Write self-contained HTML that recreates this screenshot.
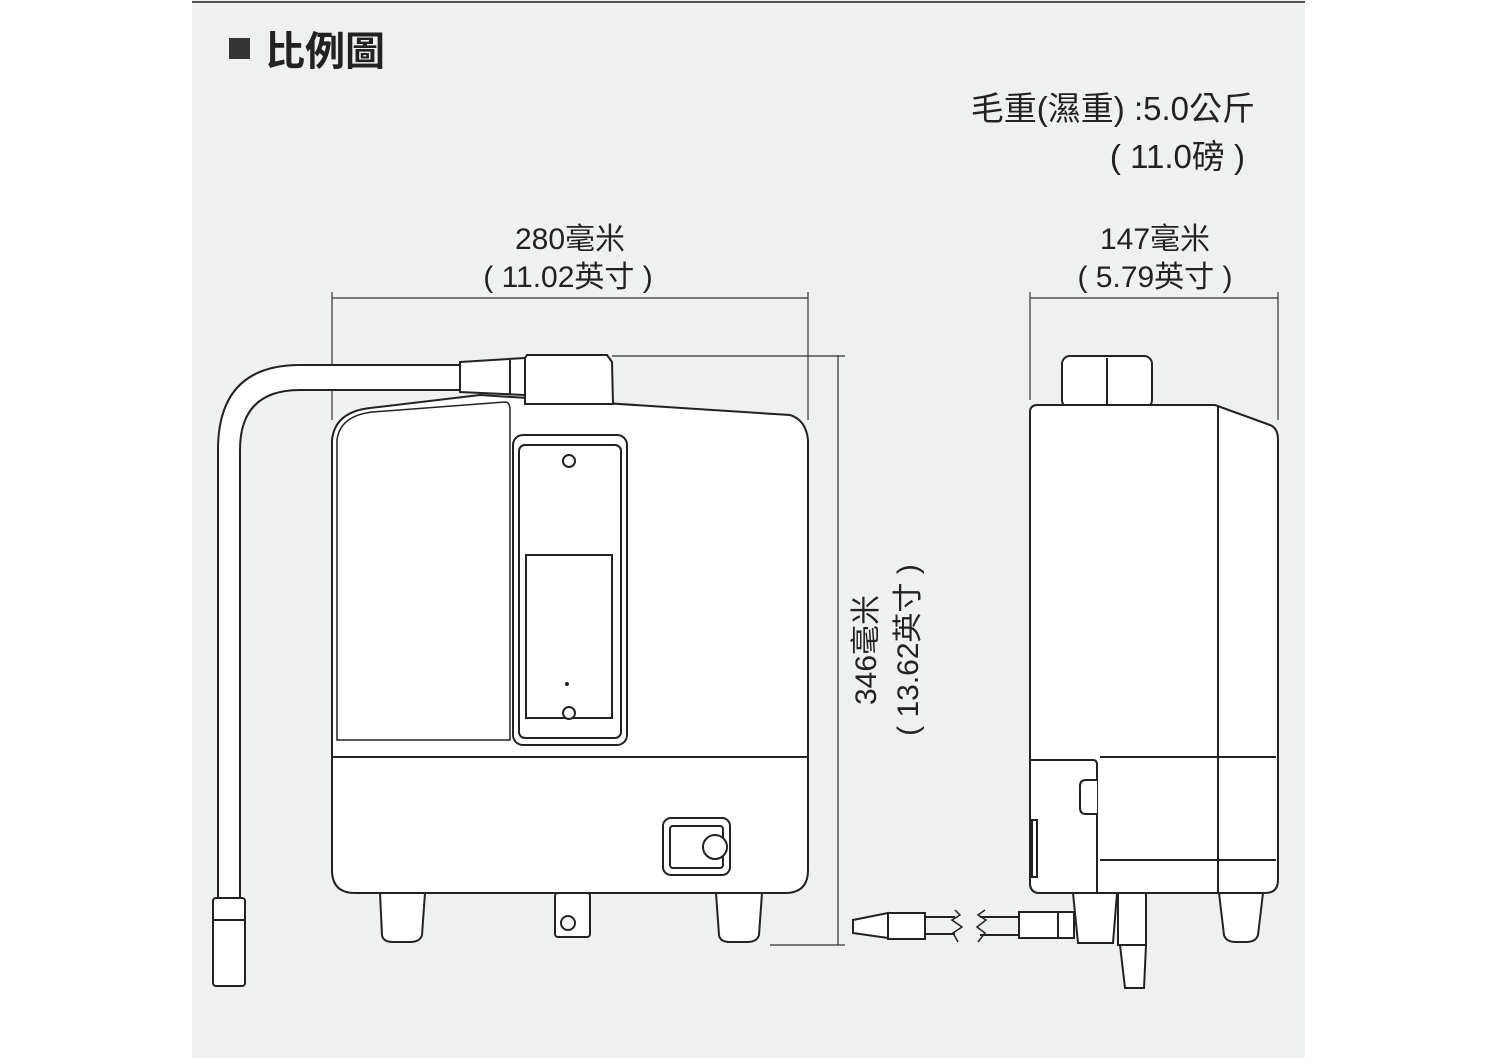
<!DOCTYPE html>
<html><head><meta charset="utf-8"><style>
html,body{margin:0;padding:0;background:#fff;}
svg{display:block;}
text{font-family:"Liberation Sans","Noto Sans CJK TC",sans-serif;fill:#222;}
</style></head><body>
<svg width="1497" height="1058" viewBox="0 0 1497 1058" xmlns="http://www.w3.org/2000/svg">
<rect x="192" y="0" width="1113" height="1058" fill="#eef1f0"/>
<line x1="192" y1="2" x2="1305" y2="2" stroke="#555" stroke-width="2"/>
<rect x="229" y="38" width="21" height="21" fill="#333"/>
<text x="265" y="65" font-size="40" font-weight="bold">比例圖</text>
<text x="1255" y="120" font-size="33" text-anchor="end">毛重(濕重) :5.0公斤</text>
<text x="1245" y="168" font-size="33" text-anchor="end">( 11.0磅 )</text>
<text x="570" y="249" font-size="30" text-anchor="middle">280毫米</text>
<text x="568" y="287" font-size="30" text-anchor="middle">( 11.02英寸 )</text>
<text x="1155" y="249" font-size="30" text-anchor="middle">147毫米</text>
<text x="1155" y="287" font-size="30" text-anchor="middle">( 5.79英寸 )</text>
<g transform="translate(876,650) rotate(-90)"><text x="0" y="0" font-size="30" text-anchor="middle">346毫米</text></g>
<g transform="translate(918,650) rotate(-90)"><text x="0" y="0" font-size="30" text-anchor="middle">( 13.62英寸 )</text></g>
<g fill="none" stroke="#333" stroke-width="1.2">
<line x1="332" y1="298" x2="808" y2="298"/><line x1="332" y1="292" x2="332" y2="420"/><line x1="808" y1="292" x2="808" y2="420"/>
<line x1="838" y1="355" x2="838" y2="945"/><line x1="612" y1="356" x2="845" y2="356"/><line x1="770" y1="945" x2="845" y2="945"/>
<line x1="1030" y1="298" x2="1278" y2="298"/><line x1="1030" y1="292" x2="1030" y2="400"/><line x1="1278" y1="292" x2="1278" y2="420"/>
</g>
<g fill="#fff" stroke="#222" stroke-width="2">
<path d="M460,365 L300,365 Q218,365 218,450 L218,900 L240,900 L240,450 Q240,390 300,390 L460,390 Z"/>
<rect x="213" y="898" width="32" height="88" rx="3"/>
<line x1="213" y1="920" x2="245" y2="920"/>
<path d="M332,440 Q335,412 370,408 L480,395 L790,415 Q806,420 808,440 L808,870 Q808,893 785,893 L355,893 Q332,893 332,870 Z"/>
<path d="M337,440 Q340,416 372,412 L505,402 Q510,402 510,410 L510,740 L337,740 Z" stroke-width="1.5"/>
<line x1="332" y1="757" x2="808" y2="757"/>
<rect x="513" y="435" width="114" height="310" rx="10"/>
<rect x="519" y="445" width="102" height="293" rx="6"/>
<rect x="526" y="555" width="86" height="163"/>
<circle cx="569" cy="461" r="6"/><circle cx="569" cy="713" r="6"/>
<circle cx="567" cy="684" r="1" fill="#222"/>
<rect x="663" y="818" width="67" height="57" rx="8"/>
<rect x="670" y="826" width="53" height="42" rx="3"/>
<circle cx="715" cy="847" r="12"/>
<path d="M460,362 L525,358 L525,395 L460,392 Z"/>
<line x1="510" y1="360" x2="510" y2="394"/>
<path d="M525,358 L527,355 L607,355 L612,362 L613,404 L525,404 Z"/>
<path d="M380,893 L425,893 L422,935 Q420,942 410,942 L393,942 Q383,942 382,935 Z"/>
<path d="M716,893 L762,893 L759,935 Q757,942 747,942 L730,942 Q720,942 719,935 Z"/>
<rect x="555" y="893" width="35" height="44" rx="3"/>
<circle cx="568" cy="923" r="7"/>
<rect x="1062" y="356" width="90" height="52" rx="8"/>
<line x1="1107" y1="358" x2="1107" y2="406"/>
<path d="M1030,412 Q1030,405 1038,405 L1215,405 L1270,425 Q1278,428 1278,440 L1278,880 Q1278,893 1265,893 L1040,893 Q1030,893 1030,883 Z"/>
<line x1="1218" y1="405" x2="1218" y2="893"/>
<line x1="1100" y1="757" x2="1276" y2="757"/>
<line x1="1100" y1="860" x2="1276" y2="860"/>
<path d="M1030,760 L1093,760 Q1097,760 1097,765 L1097,893 L1040,893 Q1030,893 1030,883 Z"/>
<path d="M1097,780 L1086,780 Q1080,780 1080,786 L1080,808 Q1080,814 1086,814 L1097,814"/>
<rect x="1032" y="820" width="5" height="57"/>
<path d="M1219,893 L1263,893 L1258,935 Q1256,942 1246,942 L1236,942 Q1226,942 1224,935 Z"/>
<path d="M1073,893 L1117,893 L1113,943 L1078,943 Z"/>
<path d="M1118,893 L1146,893 L1146,945 L1118,945 Z"/>
<path d="M1120,945 L1146,945 L1144,988 L1125,988 Z"/>
<rect x="1019" y="912" width="55" height="26"/>
<line x1="1058" y1="912" x2="1058" y2="938"/>
<path d="M853,920 L888,913 L888,938 L853,933 Z"/>
<rect x="888" y="913" width="37" height="26"/>
<path d="M925,917 L955,917 M925,934 L955,934"/>
<path d="M980,917 L1019,917 M980,935 L1019,935"/>
</g>
<g fill="none" stroke="#222" stroke-width="1.5">
<path d="M955,910 L960,915 L952,920 L962,927 L953,933 L958,942"/>
<path d="M985,910 L978,915 L986,920 L977,927 L985,933 L978,942"/>
</g>
</svg>
</body></html>
